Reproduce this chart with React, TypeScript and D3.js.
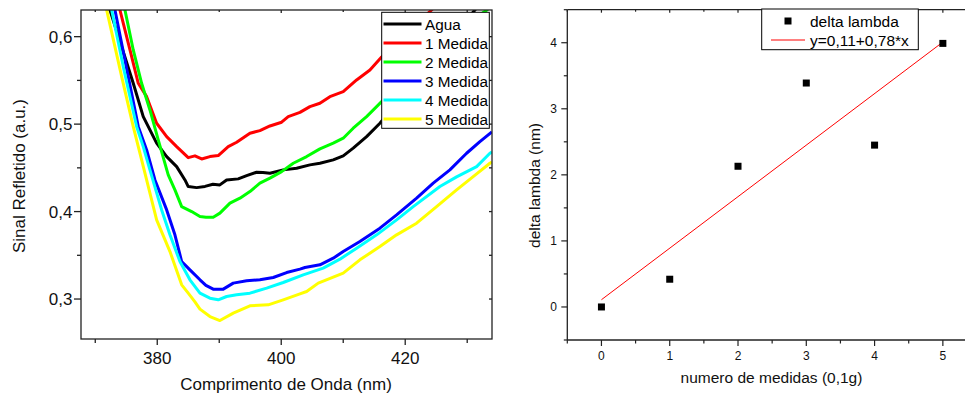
import React from "react";
import * as d3 from "d3";

// ---------- Left panel data (wavelength nm, reflected signal a.u.) ----------
const agua: [number, number][] = [
  [371.5, 0.65], [372.37, 0.6305], [376.13, 0.5467], [377.74, 0.5086], [379.9, 0.4782],
  [381.52, 0.4629], [383.13, 0.4514], [384.47, 0.4362], [385.0, 0.4286], [386.35, 0.4274],
  [387.7, 0.4288], [388.98, 0.4313], [390.1, 0.4305], [391.19, 0.4362], [393.06, 0.4374],
  [394.42, 0.4411], [396.03, 0.445], [397.05, 0.4448], [398.18, 0.4439], [400.32, 0.4477],
  [402.48, 0.4496], [404.63, 0.4534], [406.24, 0.4553], [408.39, 0.4591], [410.0, 0.4637],
  [411.61, 0.4725], [413.77, 0.4857], [415.92, 0.501], [420.0, 0.535], [424.0, 0.5699],
  [431.24, 0.6305], [433.98, 0.6534],
];
const medida1: [number, number][] = [
  [373.34, 0.6488], [373.98, 0.6305], [375.6, 0.5848], [376.94, 0.5467], [378.29, 0.5314],
  [379.9, 0.501], [381.52, 0.4857], [383.13, 0.4743], [385.0, 0.4617], [386.08, 0.4637],
  [387.16, 0.4602], [388.5, 0.4629], [389.84, 0.464], [391.45, 0.4743], [392.81, 0.4793],
  [394.95, 0.4896], [396.56, 0.4926], [398.18, 0.4979], [400.06, 0.5022], [401.13, 0.5086],
  [403.02, 0.5134], [404.63, 0.52], [406.24, 0.5239], [407.85, 0.5314], [410.0, 0.5371],
  [412.16, 0.5505], [414.31, 0.5619], [416.19, 0.5768], [420.0, 0.603], [424.26, 0.6305],
  [425.6, 0.6419],
];
const medida2: [number, number][] = [
  [374.15, 0.649], [374.79, 0.6305], [376.13, 0.5848], [377.48, 0.5467], [378.82, 0.5162],
  [380.16, 0.4819], [381.77, 0.4419], [382.85, 0.4248], [383.94, 0.4057], [385.55, 0.4],
  [386.89, 0.3943], [387.85, 0.3934], [389.03, 0.3936], [390.11, 0.3982], [391.73, 0.4096],
  [393.34, 0.4153], [394.95, 0.4229], [396.56, 0.4325], [398.18, 0.4382], [400.06, 0.4457],
  [401.94, 0.4553], [404.1, 0.4629], [406.24, 0.4717], [408.39, 0.4782], [410.0, 0.4839],
  [411.61, 0.4953], [413.77, 0.5086], [416.19, 0.5257], [420.0, 0.556], [423.98, 0.5848],
  [428.5, 0.608], [433.18, 0.6305], [433.98, 0.6362],
];
const medida3: [number, number][] = [
  [372.85, 0.6454], [373.18, 0.6305], [375.11, 0.5619], [376.94, 0.4971], [378.29, 0.4705],
  [379.63, 0.4362], [381.52, 0.4019], [382.85, 0.3734], [383.94, 0.3429], [385.27, 0.3334],
  [386.89, 0.322], [387.85, 0.3157], [389.03, 0.3113], [390.65, 0.3113], [392.26, 0.3182],
  [394.42, 0.3208], [396.56, 0.322], [398.71, 0.3246], [400.87, 0.3303], [403.02, 0.3342],
  [403.82, 0.336], [406.24, 0.3391], [408.39, 0.3467], [410.0, 0.3543], [412.69, 0.3657],
  [415.92, 0.381], [418.61, 0.3962], [421.84, 0.4153], [424.52, 0.4325], [427.21, 0.4477],
  [429.9, 0.4667], [432.05, 0.48], [433.98, 0.4911],
];
const medida4: [number, number][] = [
  [372.3, 0.645], [372.65, 0.6305], [374.63, 0.5619], [376.68, 0.4971], [377.74, 0.4743],
  [378.82, 0.4477], [380.71, 0.4019], [382.05, 0.3734], [383.66, 0.3429], [385.27, 0.322],
  [386.89, 0.3067], [388.5, 0.301], [389.84, 0.2991], [391.19, 0.3029], [392.81, 0.3048],
  [394.95, 0.3067], [397.65, 0.3125], [400.32, 0.3189], [403.55, 0.3277], [406.77, 0.3353],
  [409.47, 0.3456], [412.16, 0.3582], [415.39, 0.3734], [418.61, 0.3905], [421.29, 0.4057],
  [425.6, 0.4286], [428.29, 0.4397], [431.52, 0.4514], [433.66, 0.4667], [433.98, 0.4682],
];
const medida5: [number, number][] = [
  [371.5, 0.645], [371.84, 0.6305], [374.26, 0.5543], [376.13, 0.4971], [377.48, 0.4591],
  [379.9, 0.3905], [382.05, 0.3543], [383.94, 0.3162], [385.0, 0.3067], [386.08, 0.2968],
  [386.89, 0.2885], [388.5, 0.28], [390.11, 0.2754], [392.26, 0.2839], [394.95, 0.2922],
  [397.9, 0.2934], [400.32, 0.2991], [403.02, 0.3059], [404.1, 0.3086], [405.97, 0.3182],
  [408.39, 0.325], [410.0, 0.3296], [412.69, 0.3448], [415.92, 0.36], [418.61, 0.3734],
  [421.84, 0.3867], [425.06, 0.4057], [428.29, 0.4248], [431.52, 0.4431], [433.66, 0.4553],
  [433.98, 0.4568],
];
const seriesNames = ["Agua", "1 Medida", "2 Medida", "3 Medida", "4 Medida", "5 Medida"];
const seriesColors = ["#000000", "#ff0000", "#00ff00", "#0000ff", "#00ffff", "#ffff00"];
const seriesData = [agua, medida1, medida2, medida3, medida4, medida5];
const leftXTicks = [380, 400, 420];
const leftXMinor = [370, 390, 410, 430];
const leftYTicks = [0.3, 0.4, 0.5, 0.6];
const leftYMinor = [0.35, 0.45, 0.55];

// ---------- Right panel data ----------
const medidas = [0, 1, 2, 3, 4, 5];
const deltaLambda = [0, 0.42, 2.13, 3.39, 2.45, 3.99];
const fitIntercept = 0.11;
const fitSlope = 0.78;
const rightXTicks = [0, 1, 2, 3, 4, 5];
const rightXMinor = [-0.5, 0.5, 1.5, 2.5, 3.5, 4.5, 5.5];
const rightYTicks = [0, 1, 2, 3, 4];
const rightYMinor = [-0.5, 0.5, 1.5, 2.5, 3.5, 4.5];

const FONT = "'Liberation Sans', Arial, Helvetica, sans-serif";
const fmt = (v: number) => String(v).replace(".", ",");

export default function App() {
  // left layout
  const L = { left: 81, right: 492, top: 10, bottom: 339 };
  const xL = d3.scaleLinear().domain([367.7, 434]).range([L.left, L.right]);
  const yL = d3.scaleLinear().domain([0.2543, 0.6305]).range([L.bottom, L.top]);
  const lineL = d3
    .line<[number, number]>()
    .x((d) => xL(d[0]))
    .y((d) => yL(d[1]));

  // right layout
  const R = { left: 567.3, right: 977, top: 9.7, bottom: 340 };
  const xR = d3.scaleLinear().domain([-0.5, 5.5]).range([R.left, R.right]);
  const yR = d3.scaleLinear().domain([-0.5, 4.5]).range([R.bottom, R.top]);

  const axisColor = "#222";

  const legendL = { x: 381.7, y: 12.3, w: 107.6, h: 116, row0: 24, step: 19 };

  return (
    <svg width={965} height={397} style={{ position: "absolute", left: 0, top: 0, background: "#fff" }} fontFamily={FONT}>
      <defs>
        <clipPath id="clipL">
          <rect x={L.left} y={L.top} width={L.right - L.left} height={L.bottom - L.top} />
        </clipPath>
      </defs>
      <rect x={0} y={0} width={965} height={397} fill="#fff" />

      {/* ---------- LEFT PANEL ---------- */}
      <g clipPath="url(#clipL)">
        {seriesData.map((s, i) => (
          <path key={i} d={lineL(s) || ""} fill="none" stroke={seriesColors[i]} strokeWidth={3} strokeLinejoin="round" />
        ))}
      </g>
      {/* frame */}
      <rect x={L.left} y={L.top} width={L.right - L.left} height={L.bottom - L.top} fill="none" stroke={axisColor} strokeWidth={1.3} />
      {/* bottom ticks */}
      {leftXTicks.map((t) => (
        <g key={"lx" + t}>
          <line x1={xL(t)} x2={xL(t)} y1={L.bottom} y2={L.bottom + 6} stroke={axisColor} strokeWidth={1.3} />
          <line x1={xL(t)} x2={xL(t)} y1={L.top} y2={L.top + 3} stroke={axisColor} strokeWidth={1.3} />
          <text x={xL(t)} y={364} fontSize={17} textAnchor="middle" fill="#111">{t}</text>
        </g>
      ))}
      {leftXMinor.map((t) => (
        <g key={"lxm" + t}>
          <line x1={xL(t)} x2={xL(t)} y1={L.bottom} y2={L.bottom + 4} stroke={axisColor} strokeWidth={1.3} />
          <line x1={xL(t)} x2={xL(t)} y1={L.top} y2={L.top + 2} stroke={axisColor} strokeWidth={1.3} />
        </g>
      ))}
      {leftYTicks.map((t) => (
        <g key={"ly" + t}>
          <line x1={L.left - 7} x2={L.left} y1={yL(t)} y2={yL(t)} stroke={axisColor} strokeWidth={1.3} />
          <line x1={L.right - 3} x2={L.right} y1={yL(t)} y2={yL(t)} stroke={axisColor} strokeWidth={1.3} />
          <text x={72.5} y={yL(t)} dy="0.36em" fontSize={17} textAnchor="end" fill="#111">{fmt(t)}</text>
        </g>
      ))}
      {leftYMinor.map((t) => (
        <g key={"lym" + t}>
          <line x1={L.left - 4} x2={L.left} y1={yL(t)} y2={yL(t)} stroke={axisColor} strokeWidth={1.3} />
          <line x1={L.right - 3} x2={L.right} y1={yL(t)} y2={yL(t)} stroke={axisColor} strokeWidth={1.3} />
        </g>
      ))}
      <text x={(L.left + L.right) / 2 - 0.5} y={390} fontSize={17} textAnchor="middle" fill="#111">Comprimento de Onda (nm)</text>
      <text transform={`translate(19,176) rotate(-90)`} dy="0.36em" fontSize={17} textAnchor="middle" fill="#111">Sinal Refletido (a.u.)</text>

      {/* left legend */}
      <rect x={legendL.x} y={legendL.y} width={legendL.w} height={legendL.h} fill="#fff" stroke="#000" strokeWidth={1} />
      {seriesNames.map((n, i) => {
        const cy = legendL.row0 + i * legendL.step;
        return (
          <g key={"leg" + i}>
            <line x1={383.5} x2={421.5} y1={cy} y2={cy} stroke={seriesColors[i]} strokeWidth={3} />
            <text x={425} y={cy} dy="0.36em" fontSize={15.3} fill="#000">{n}</text>
          </g>
        );
      })}

      {/* ---------- RIGHT PANEL ---------- */}
      <line x1={R.left} x2={R.right} y1={R.top} y2={R.top} stroke={axisColor} strokeWidth={1.3} />
      <line x1={R.left} x2={R.right} y1={R.bottom} y2={R.bottom} stroke={axisColor} strokeWidth={1.3} />
      <line x1={R.left} x2={R.left} y1={R.top} y2={R.bottom} stroke={axisColor} strokeWidth={1.3} />
      {rightXTicks.map((t) => (
        <g key={"rx" + t}>
          <line x1={xR(t)} x2={xR(t)} y1={R.bottom} y2={R.bottom + 6} stroke={axisColor} strokeWidth={1.2} />
          <line x1={xR(t)} x2={xR(t)} y1={R.top} y2={R.top + 3} stroke={axisColor} strokeWidth={1.2} />
          <text x={xR(t)} y={360} fontSize={12} textAnchor="middle" fill="#111">{t}</text>
        </g>
      ))}
      {rightXMinor.map((t) => (
        <g key={"rxm" + t}>
          <line x1={xR(t)} x2={xR(t)} y1={R.bottom} y2={R.bottom + 3.5} stroke={axisColor} strokeWidth={1.2} />
          <line x1={xR(t)} x2={xR(t)} y1={R.top} y2={R.top + 2} stroke={axisColor} strokeWidth={1.2} />
        </g>
      ))}
      {rightYTicks.map((t) => (
        <g key={"ry" + t}>
          <line x1={R.left - 6} x2={R.left} y1={yR(t)} y2={yR(t)} stroke={axisColor} strokeWidth={1.2} />
          <text x={557} y={yR(t)} dy="0.36em" fontSize={12} textAnchor="end" fill="#111">{t}</text>
        </g>
      ))}
      {rightYMinor.map((t) => (
        <line key={"rym" + t} x1={R.left - 3.5} x2={R.left} y1={yR(t)} y2={yR(t)} stroke={axisColor} strokeWidth={1.2} />
      ))}
      {/* fit line */}
      <line
        x1={xR(medidas[0])}
        x2={xR(medidas[medidas.length - 1])}
        y1={yR(fitIntercept + fitSlope * medidas[0])}
        y2={yR(fitIntercept + fitSlope * medidas[medidas.length - 1])}
        stroke="#ff0000"
        strokeWidth={1}
      />
      {medidas.map((m, i) => (
        <rect key={"pt" + i} x={xR(m) - 3.5} y={yR(deltaLambda[i]) - 3.5} width={7} height={7} fill="#000" />
      ))}
      <text x={771.5} y={383} fontSize={15.5} textAnchor="middle" fill="#111">numero de medidas (0,1g)</text>
      <text transform={`translate(534,185.5) rotate(-90)`} dy="0.36em" fontSize={15.5} textAnchor="middle" fill="#111">delta lambda (nm)</text>

      {/* right legend */}
      <rect x={761.7} y={9} width={156.6} height={40.7} fill="#fff" stroke="#000" strokeWidth={1} />
      <rect x={788 - 3.5} y={21 - 3.5} width={7} height={7} fill="#000" />
      <text x={810} y={21} dy="0.36em" fontSize={15.5} fill="#000">delta lambda</text>
      <line x1={771} x2={805} y1={40} y2={40} stroke="#ff0000" strokeWidth={1} />
      <text x={810} y={40} dy="0.36em" fontSize={15.5} fill="#000">y=0,11+0,78*x</text>
    </svg>
  );
}
